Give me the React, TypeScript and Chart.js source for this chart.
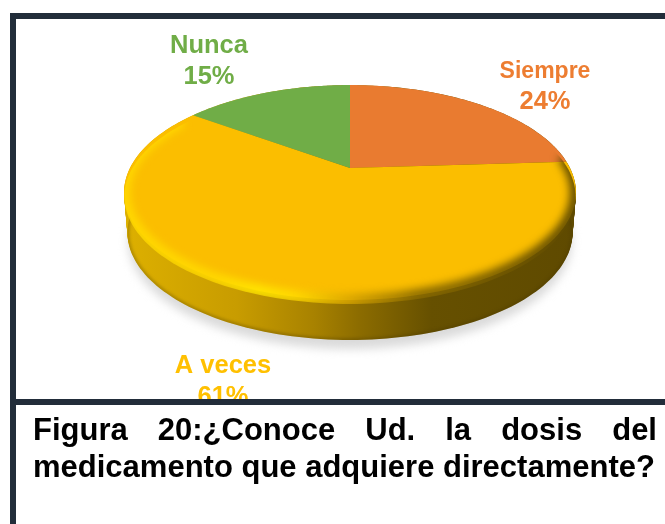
import React, { useEffect, useRef } from "react";
import { Chart, registerables } from "chart.js";

Chart.register(...registerables);

const categories = ["Siempre", "A veces", "Nunca"];
const shares = [24, 61, 15];
const sliceColors = ["#E97B30", "#FBBE00", "#70AD47"];
const labelColors = ["#ED7D31", "#FFC000", "#70AD47"];
const labelFontPx = [23, 25.5, 25.5];
const labelCenters = [[545, 78], [223, 373], [209, 53]];

const captionFirst = "Figura 20:¿Conoce Ud. la dosis del";
const captionSecond = "medicamento que adquiere directamente?";

const FRAME = "#222D3A";
const PERSPECTIVE = 0.228;
const SQUASH = 0.463;
const LIFT = 52;
const WALL = 40;
const WALL_TAPER = 0.015;

function project(arc: any, theta: number) {
  const w = 1 - PERSPECTIVE * Math.sin(theta);
  return [
    arc.x + (arc.outerRadius * Math.cos(theta)) / w,
    arc.y - LIFT + (arc.outerRadius * SQUASH * Math.sin(theta)) / w,
  ];
}

function traceRing(ctx: CanvasRenderingContext2D, arc: any, dy = 0) {
  const s = 1 - (WALL_TAPER * dy) / WALL;
  ctx.beginPath();
  for (let i = 0; i <= 240; i++) {
    const [x, y] = project(arc, (i / 240) * Math.PI * 2);
    const px = arc.x + (x - arc.x) * s;
    if (i === 0) ctx.moveTo(px, y + dy);
    else ctx.lineTo(px, y + dy);
  }
  ctx.closePath();
}

function traceSlice(ctx: CanvasRenderingContext2D, arc: any) {
  ctx.beginPath();
  const apex = project({ ...arc, outerRadius: 0 }, 0);
  ctx.moveTo(apex[0], apex[1]);
  const steps = 120;
  for (let i = 0; i <= steps; i++) {
    const t = arc.startAngle + ((arc.endAngle - arc.startAngle) * i) / steps;
    const [x, y] = project(arc, t);
    ctx.lineTo(x, y);
  }
  ctx.closePath();
}

const tiltedPie = {
  id: "tiltedPie",
  beforeDatasetDraw(chart: any) {
    const ctx: CanvasRenderingContext2D = chart.ctx;
    const arcs = chart.getDatasetMeta(0).data;
    const ref = arcs[0];
    const left = ref.x - 226;
    const right = ref.x + 226;

    ctx.save();
    ctx.filter = "blur(5px)";
    ctx.fillStyle = "#DADADA";
    traceRing(ctx, ref, WALL + 9);
    ctx.fill();
    ctx.restore();

    const wall = ctx.createLinearGradient(left, 0, right, 0);
    wall.addColorStop(0, "#DDB000");
    wall.addColorStop(0.25, "#C89C00");
    wall.addColorStop(0.42, "#A88200");
    wall.addColorStop(0.52, "#8C6C00");
    wall.addColorStop(0.68, "#665000");
    wall.addColorStop(1, "#5F4A00");
    ctx.save();
    ctx.fillStyle = wall;
    for (let d = WALL; d >= 0; d -= 1) {
      traceRing(ctx, ref, d);
      ctx.fill();
    }
    traceRing(ctx, ref, WALL);
    ctx.clip();
    ctx.filter = "blur(1.5px)";
    ctx.strokeStyle = "rgba(70,52,0,0.3)";
    ctx.lineWidth = 4;
    traceRing(ctx, ref, WALL);
    ctx.stroke();
    ctx.restore();

    arcs.forEach((arc: any, i: number) => {
      traceSlice(ctx, arc);
      ctx.fillStyle = sliceColors[i];
      ctx.fill();
    });

    const rim = ctx.createLinearGradient(left, 0, right, 0);
    rim.addColorStop(0, "#FFD800");
    rim.addColorStop(0.2, "#FFD800");
    rim.addColorStop(0.3, "#FFE600");
    rim.addColorStop(0.38, "#FFDA00");
    rim.addColorStop(0.5, "#D8A500");
    rim.addColorStop(0.65, "#8A6B00");
    rim.addColorStop(1, "#5F4A00");
    ctx.save();
    traceRing(ctx, ref, 4);
    ctx.clip();
    ctx.filter = "blur(4px)";
    ctx.strokeStyle = rim;
    ctx.lineWidth = 12;
    ctx.beginPath();
    for (let i = 0; i <= 120; i++) {
      const t = -0.12 + (i / 120) * (Math.PI + 0.67);
      const [x, y] = project(ref, t);
      if (i === 0) ctx.moveTo(x, y);
      else ctx.lineTo(x, y);
    }
    ctx.stroke();
    ctx.restore();
    return false;
  },
  afterDraw(chart: any) {
    const ctx: CanvasRenderingContext2D = chart.ctx;
    ctx.save();
    ctx.textAlign = "center";
    ctx.textBaseline = "alphabetic";
    categories.forEach((name, i) => {
      ctx.fillStyle = labelColors[i];
      ctx.font = `bold ${labelFontPx[i]}px "Liberation Sans"`;
      ctx.fillText(name, labelCenters[i][0], labelCenters[i][1]);
      ctx.font = `bold 25.5px "Liberation Sans"`;
      ctx.fillText(`${shares[i]}%`, labelCenters[i][0], labelCenters[i][1] + 30.5);
    });
    ctx.restore();
  },
};

export default function App() {
  const ref = useRef<HTMLCanvasElement>(null);
  useEffect(() => {
    const chart = new Chart(ref.current!, {
      type: "pie",
      data: {
        labels: categories,
        datasets: [{ data: shares, backgroundColor: sliceColors, borderWidth: 0 }],
      },
      options: {
        responsive: false,
        animation: false,
        events: [],
        layout: { padding: { left: 130, right: 95, top: 0, bottom: 84 } },
        plugins: { legend: { display: false }, tooltip: { enabled: false } },
      },
      plugins: [tiltedPie],
    } as any);
    return () => chart.destroy();
  }, []);

  const bar = (s: React.CSSProperties) => (
    <div style={{ position: "absolute", background: FRAME, ...s }} />
  );
  const line: React.CSSProperties = {
    font: 'bold 31px "Liberation Sans"',
    lineHeight: "36.5px",
    color: "#000",
    whiteSpace: "nowrap",
  };

  return (
    <div style={{ position: "fixed", left: 0, top: 0, width: 665, height: 524, overflow: "hidden", background: "#fff" }}>
      <canvas ref={ref} width={665} height={524} style={{ position: "absolute", left: 0, top: 0, display: "block" }} />
      <div style={{ position: "absolute", left: 0, top: 404, width: 665, height: 120, background: "#fff" }} />
      {bar({ left: 10, top: 13, width: 655, height: 6, borderTopLeftRadius: 2 })}
      {bar({ left: 10, top: 13, width: 6, height: 511 })}
      {bar({ left: 10, top: 399, width: 655, height: 6 })}
      <div style={{ position: "absolute", left: 33, top: 412, width: 624 }}>
        <div style={{ ...line, whiteSpace: "normal", textAlign: "justify", textAlignLast: "justify" }}>{captionFirst}</div>
        <div style={line}>{captionSecond}</div>
      </div>
    </div>
  );
}
